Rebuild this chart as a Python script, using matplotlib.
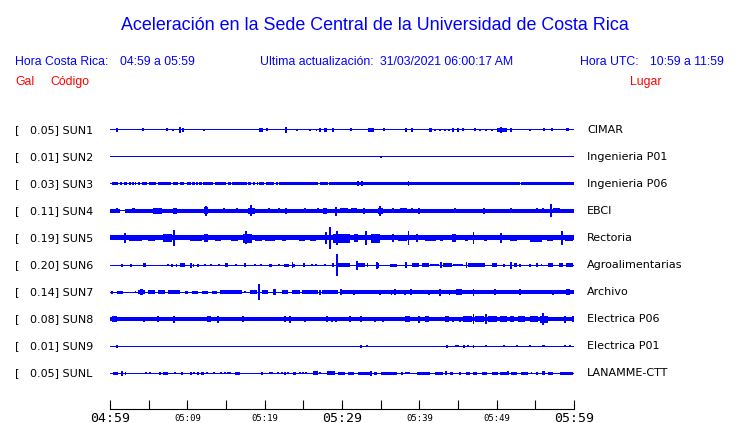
"""
Acelerogramas de la Sede Central (UCR) - recreación del gráfico de una hora
"""

import matplotlib
matplotlib.use('Agg')
import matplotlib.pyplot as plt
from matplotlib import transforms

# Estaciones
CODES = ['SUN1', 'SUN2', 'SUN3', 'SUN4', 'SUN5', 'SUN6', 'SUN7', 'SUN8', 'SUN9', 'SUNL']
GAL = [0.05, 0.01, 0.03, 0.11, 0.19, 0.20, 0.14, 0.08, 0.01, 0.05]
PLACES = ['CIMAR', 'Ingenieria P01', 'Ingenieria P06', 'EBCI', 'Rectoria',
          'Agroalimentarias', 'Archivo', 'Electrica P06', 'Electrica P01', 'LANAMME-CTT']

# Semi-amplitud del ruido de fondo de cada traza (px)
BASE_HALF = [0, 0, 1.5, 1.8, 2.5, 0, 0, 2.0, 0, 0]

# Tramos (min) donde el fondo se adelgaza
SUN3_GAPS = [(0.0, 0.3), (1.0, 1.3), (1.6, 1.85), (2.25, 2.5), (2.7, 2.9), (3.05, 3.25),
             (3.4, 3.6), (3.9, 4.1), (4.75, 5.0), (6.0, 6.25), (7.95, 8.15), (8.75, 9.0),
             (9.6, 9.95), (10.45, 10.65), (10.95, 11.1), (11.35, 11.5), (11.9, 12.05),
             (13.35, 13.55), (15.05, 15.3), (15.65, 15.8), (17.7, 17.9), (18.25, 18.45),
             (18.8, 18.95), (19.15, 19.3), (19.85, 20.2), (21.2, 21.5), (21.7, 21.9),
             (26.95, 27.1), (28.2, 28.35), (49.85, 49.95), (53.0, 53.15)]
SUN4_GAPS = [(1.3, 2.0)]

# Ráfagas: (min inicio, min fin, semi-amplitud px)
SUN1_BURSTS = [(0.95, 0.95, 1.8), (4.3, 4.3, 1.5), (7.4, 7.4, 1.5), (8.2, 8.2, 1.2), (9.1, 9.1, 3.0),
               (9.4, 9.4, 1.8), (12.2, 12.2, 1.2), (19.3, 19.8, 2.0), (20.3, 20.3, 1.5),
               (22.7, 22.7, 2.8), (24.2, 24.2, 1.2), (25.9, 25.9, 1.2), (26.7, 26.7, 1.2),
               (27.1, 27.1, 1.8), (27.7, 28.1, 2.3), (28.7, 28.9, 1.8), (31.2, 31.2, 1.5),
               (33.4, 34.1, 2.0), (35.4, 35.4, 1.5), (38.1, 38.4, 2.0), (38.9, 39.1, 2.0),
               (41.2, 41.6, 2.2), (42.0, 42.0, 1.2), (42.7, 42.7, 1.2), (43.3, 43.3, 1.0),
               (43.8, 43.8, 1.0), (44.3, 44.3, 1.8), (45.0, 45.0, 2.3), (45.6, 45.6, 1.5),
               (47.2, 47.2, 1.5), (47.8, 47.8, 1.2), (48.6, 48.6, 1.2), (49.4, 49.4, 1.0),
               (50.0, 51.3, 2.0), (50.6, 50.6, 2.8), (51.9, 51.9, 1.8), (54.3, 54.3, 1.2),
               (56.1, 56.1, 1.5), (57.1, 57.3, 1.5), (59.0, 59.3, 1.5)]
SUN2_BURSTS = [(35.0, 35.0, 1.2)]
SUN3_BURSTS = [(32.1, 32.1, 2.5), (32.6, 32.6, 2.5), (38.6, 38.6, 2.5)]
SUN4_BURSTS = [(0.95, 0.95, 2.5), (2.8, 3.2, 2.5), (5.6, 6.7, 2.7), (8.2, 8.6, 3.2), (9.9, 10.6, 2.3),
               (12.1, 12.7, 3.5), (12.4, 12.4, 5.0), (14.7, 14.7, 2.5), (16.4, 16.4, 2.5),
               (17.8, 18.8, 3.3), (18.2, 18.3, 5.5), (20.5, 20.5, 2.5), (21.8, 21.8, 2.5),
               (22.6, 22.8, 3.2), (25.2, 25.2, 2.5), (26.1, 26.1, 2.2), (26.9, 26.9, 2.5),
               (27.6, 28.0, 2.7), (29.2, 29.2, 4.5), (29.7, 30.8, 2.5), (31.2, 31.9, 2.5),
               (32.8, 33.0, 2.8), (34.7, 35.3, 3.2), (34.9, 34.9, 5.0), (36.0, 36.0, 2.2),
               (36.6, 36.6, 2.5), (37.5, 38.4, 2.5), (39.0, 39.0, 2.5), (39.9, 40.1, 3.3),
               (40.7, 40.7, 2.2), (42.7, 43.5, 2.3), (44.6, 44.6, 2.5), (45.7, 45.7, 2.2),
               (47.2, 47.2, 2.2), (48.3, 48.5, 2.7), (50.4, 50.4, 2.2), (51.7, 51.9, 2.5),
               (53.0, 53.0, 2.2), (55.2, 55.2, 2.5), (56.0, 56.0, 2.5), (57.0, 57.0, 6.5),
               (57.3, 58.2, 2.5)]
SUN5_BURSTS = [(1.9, 1.9, 5.0), (2.4, 4.1, 3.3), (4.9, 5.8, 3.3), (6.8, 8.0, 3.8), (8.3, 8.3, 8.0),
               (10.3, 11.9, 3.3), (12.1, 12.7, 3.8), (13.6, 14.4, 3.3), (15.7, 16.6, 3.0),
               (17.2, 18.3, 4.5), (17.6, 17.6, 6.5), (18.8, 19.6, 3.3), (20.0, 21.3, 3.3),
               (22.2, 22.8, 3.0), (24.4, 25.2, 3.3), (25.9, 26.7, 3.0), (27.8, 28.1, 6.0),
               (28.4, 28.4, 11.0), (28.9, 31.0, 4.5), (29.3, 29.3, 7.0), (31.5, 32.1, 3.8),
               (33.0, 33.2, 7.0), (33.8, 34.9, 4.5), (36.6, 36.6, 4.0), (37.3, 38.4, 3.3),
               (38.6, 38.6, 7.0), (39.7, 39.7, 4.0), (40.7, 42.2, 3.3), (42.7, 43.1, 3.0),
               (44.2, 44.8, 3.8), (45.9, 46.3, 3.3), (47.0, 47.0, 6.0), (48.3, 48.7, 3.0),
               (50.6, 50.6, 5.0), (51.7, 52.6, 3.0), (54.3, 55.8, 3.5), (56.5, 57.3, 3.0),
               (58.4, 58.4, 7.0), (58.8, 59.9, 3.3)]
SUN6_BURSTS = [(1.5, 1.5, 1.5), (2.6, 2.9, 1.5), (4.3, 4.7, 2.0), (7.5, 7.5, 1.2), (8.0, 8.0, 1.5),
               (8.6, 8.6, 1.5), (9.1, 9.7, 1.8), (10.5, 10.5, 2.5), (10.8, 10.8, 1.5),
               (11.4, 11.4, 1.5), (12.3, 12.3, 1.3), (13.1, 13.1, 1.3), (14.1, 14.1, 1.3),
               (14.9, 15.3, 2.3), (16.3, 16.3, 1.2), (17.4, 17.5, 2.0), (18.8, 18.8, 1.2),
               (19.5, 19.5, 1.2), (20.6, 20.9, 1.5), (21.8, 21.8, 1.3), (22.5, 23.1, 1.5),
               (23.6, 23.6, 3.0), (23.8, 23.8, 1.5), (24.9, 25.2, 2.0), (26.1, 26.1, 1.3),
               (26.6, 26.6, 1.3), (27.8, 27.8, 1.3), (28.7, 29.0, 2.0), (29.4, 29.4, 11.0),
               (29.5, 31.0, 2.0), (31.9, 31.9, 4.5), (32.1, 33.0, 1.8), (33.2, 33.4, 1.8),
               (34.5, 34.5, 3.5), (34.7, 34.7, 2.5), (36.2, 37.1, 1.5), (38.1, 38.4, 3.0),
               (39.0, 39.9, 1.8), (40.3, 41.2, 1.6), (41.4, 42.5, 1.4), (42.8, 42.8, 3.0),
               (43.1, 44.2, 1.8), (44.4, 45.7, 1.4), (46.1, 46.1, 3.0), (46.3, 48.5, 1.6),
               (49.4, 50.0, 1.8), (50.9, 50.9, 1.5), (51.9, 51.9, 3.5), (52.2, 52.6, 2.2),
               (53.0, 53.0, 1.5), (54.3, 54.3, 1.5), (55.2, 55.2, 2.0), (55.8, 55.8, 1.3),
               (56.7, 57.3, 1.8), (58.0, 58.6, 1.6), (59.0, 59.9, 1.6)]
SUN7_BURSTS = [(0.2, 0.2, 1.5), (0.86, 1.72, 1.5), (3.2, 3.4, 1.0), (3.66, 4.53, 1.8), (3.9, 4.3, 3.0),
               (4.96, 5.82, 1.8), (6.25, 7.11, 2.0), (7.54, 9.05, 2.0), (9.7, 10.13, 1.5),
               (10.65, 11.42, 1.5), (11.85, 12.72, 1.5), (13.15, 13.79, 1.5), (14.22, 17.03, 1.8),
               (17.46, 17.46, 1.2), (18.1, 18.97, 1.8), (19.31, 19.31, 8.0), (19.6, 20.47, 1.8),
               (21.12, 21.42, 3.0), (22.2, 23.06, 1.8), (23.49, 24.57, 2.0), (24.78, 26.94, 1.8),
               (27.16, 27.16, 2.5), (27.37, 29.53, 1.8), (29.87, 29.87, 3.0), (30.04, 60.0, 1.8),
               (31.6, 31.6, 2.5), (34.9, 34.9, 2.5), (36.4, 36.4, 2.5), (36.9, 36.9, 3.0),
               (38.1, 38.1, 2.5), (38.9, 38.9, 3.0), (41.2, 41.2, 2.5), (42.7, 42.7, 3.5),
               (43.9, 43.9, 2.5), (44.8, 45.5, 2.6), (47.0, 47.0, 3.5), (49.8, 49.8, 3.0),
               (53.0, 53.0, 3.0), (57.3, 57.3, 2.5), (59.0, 59.5, 3.0)]
SUN8_BURSTS = [(0.2, 0.86, 3.0), (4.44, 4.44, 2.5), (6.25, 6.25, 3.0), (8.32, 8.32, 3.5),
               (12.5, 13.1, 2.6), (14.0, 14.0, 3.5), (17.24, 17.24, 3.0), (22.6, 22.6, 3.0),
               (23.3, 23.3, 3.5), (25.2, 25.2, 2.5), (28.0, 28.0, 3.0), (28.7, 28.7, 2.5),
               (29.2, 29.2, 2.5), (31.0, 31.0, 3.0), (32.5, 32.5, 3.0), (34.3, 34.3, 2.5),
               (35.3, 35.3, 2.5), (38.1, 38.8, 2.6), (39.9, 39.9, 3.5), (40.7, 41.2, 3.0),
               (43.3, 43.8, 2.6), (44.4, 44.4, 2.5), (45.3, 45.3, 2.5), (45.7, 46.8, 3.0),
               (47.0, 47.0, 5.0), (47.2, 48.3, 2.8), (48.6, 48.6, 5.0), (48.9, 50.0, 3.0),
               (50.4, 51.3, 3.0), (51.7, 52.2, 2.6), (52.8, 53.7, 2.6), (54.3, 55.4, 2.6),
               (55.6, 56.7, 3.5), (56.0, 56.0, 6.0), (58.8, 58.8, 3.5), (59.9, 59.9, 3.0)]
SUN9_BURSTS = [(0.95, 0.95, 1.5), (32.5, 32.5, 1.5), (33.2, 33.2, 1.2), (43.6, 43.6, 1.5),
               (44.7, 44.7, 1.2), (45.0, 45.0, 1.0), (45.8, 45.8, 1.5), (46.3, 46.3, 1.0),
               (47.0, 47.0, 1.5), (48.6, 48.6, 1.2), (50.9, 50.9, 1.0), (52.6, 52.6, 1.0),
               (54.3, 54.3, 1.0), (55.8, 56.3, 1.3), (58.8, 58.8, 1.0), (59.5, 59.5, 1.2)]
SUNL_BURSTS = [(0.43, 1.08, 1.5), (1.6, 1.6, 2.5), (2.0, 2.0, 1.5), (4.7, 4.7, 1.2), (5.2, 5.2, 1.2),
               (6.3, 6.6, 1.5), (6.9, 7.5, 1.5), (8.4, 8.4, 1.2), (9.2, 9.5, 1.5), (10.3, 10.6, 1.5),
               (10.9, 10.9, 1.2), (11.3, 11.5, 1.5), (11.8, 12.2, 1.5), (12.6, 12.6, 1.2),
               (13.4, 13.4, 1.2), (14.2, 14.4, 1.3), (14.9, 14.9, 1.2), (15.2, 15.2, 1.2),
               (15.5, 15.5, 1.2), (16.2, 16.8, 1.5), (19.6, 19.6, 1.5), (20.6, 21.1, 1.3),
               (21.7, 21.7, 1.3), (22.2, 22.2, 1.2), (22.6, 22.6, 1.5), (23.0, 23.0, 1.3),
               (23.6, 24.1, 1.5), (24.6, 24.6, 1.3), (24.9, 24.9, 1.2), (25.4, 25.4, 1.2),
               (26.3, 26.9, 2.0), (27.2, 27.2, 1.2), (28.1, 29.1, 1.8), (29.5, 30.4, 1.5),
               (30.8, 31.5, 1.5), (32.1, 33.6, 1.5), (33.8, 33.8, 2.5), (34.1, 34.5, 1.5),
               (35.1, 37.1, 1.5), (37.7, 37.9, 1.5), (38.1, 38.8, 1.3), (39.7, 41.4, 1.5),
               (42.0, 43.1, 1.5), (43.5, 43.5, 2.0), (44.0, 44.4, 1.5), (45.3, 45.3, 1.5),
               (46.0, 46.6, 1.5), (47.0, 47.4, 1.5), (48.1, 48.7, 1.5), (49.4, 50.2, 1.5),
               (50.4, 51.3, 1.5), (51.5, 51.5, 2.0), (51.9, 52.6, 1.5), (53.2, 54.1, 1.5),
               (54.5, 54.5, 1.3), (55.2, 55.2, 1.5), (55.8, 56.3, 2.0), (56.7, 57.3, 1.5),
               (58.2, 59.9, 1.5)]

# Eje de tiempo (minutos desde 04:59)
TICK_MIN = [0, 5, 10, 15, 20, 25, 30, 35, 40, 45, 50, 55, 60]
TICK_LABELS = ['04:59', '', '05:09', '', '05:19', '', '05:29', '', '05:39', '', '05:49', '', '05:59']
BIG_TICKS = [0, 30, 60]


def px(x, y):
    """Pixel de la imagen -> coordenadas de figura."""
    return x / 740, 1 - y / 423


def main():
    blue = '#0000ff'
    red = '#ff0000'
    row_px = 27.0
    n = len(CODES)

    bursts = [SUN1_BURSTS, SUN2_BURSTS, SUN3_BURSTS, SUN4_BURSTS, SUN5_BURSTS,
              SUN6_BURSTS, SUN7_BURSTS, SUN8_BURSTS, SUN9_BURSTS, SUNL_BURSTS]
    gaps = [[], [], SUN3_GAPS, SUN4_GAPS, [], [], [], [], [], []]

    fig = plt.figure(figsize=(7.4, 4.23), dpi=100)
    ax = fig.add_axes([110 / 740, 14 / 423, 464 / 740, 299 / 423])
    ax.set_xlim(0, 60)
    ax.set_ylim(-36 / row_px, (n - 1) + 20 / row_px)

    for k in range(n):
        y = (n - 1) - k
        lefts, widths, bottoms, heights = [], [], [], []
        # línea base de 1 px
        lefts.append(0.0); widths.append(60.0)
        bottoms.append(y - 0.5 / row_px); heights.append(1.0 / row_px)
        # ruido de fondo (continuo salvo los huecos)
        if BASE_HALF[k] > 0:
            starts = [0.0] + [g1 for g0, g1 in gaps[k]]
            ends = [g0 for g0, g1 in gaps[k]] + [60.0]
            h = BASE_HALF[k] / row_px
            for s, e in zip(starts, ends):
                if e > s:
                    lefts.append(s); widths.append(e - s)
                    bottoms.append(y - h); heights.append(2 * h)
        for t0, t1, a in bursts[k]:
            h = a / row_px
            w = max(t1 - t0, 0.25)
            lefts.append((t0 + t1) / 2 - w / 2); widths.append(w)
            bottoms.append(y - h); heights.append(2 * h)
        ax.bar(lefts, heights, width=widths, bottom=bottoms, align='edge',
               color=blue, linewidth=0, antialiased=False)

    # Eje
    for s in ['top', 'left', 'right']:
        ax.spines[s].set_visible(False)
    ax.spines['bottom'].set_linewidth(0.8)
    ax.set_yticks([])
    ax.set_xticks(TICK_MIN)
    ax.set_xticklabels(TICK_LABELS, family='DejaVu Sans Mono')
    ax.tick_params(axis='x', direction='in', length=6.5, width=0.8, pad=6.5)
    for lab, m in zip(ax.get_xticklabels(), TICK_MIN):
        lab.set_fontsize(9.5 if m in BIG_TICKS else 6.5)
        lab.set_va('center')

    # Etiquetas de cada traza
    trans = transforms.blended_transform_factory(fig.transFigure, ax.transData)
    for k in range(n):
        y = (n - 1) - k
        ax.text(15 / 740, y, '[   %.2f] %s' % (GAL[k], CODES[k]), transform=trans,
                fontsize=8, family='DejaVu Sans', va='center', ha='left')
        ax.text(587 / 740, y, PLACES[k], transform=trans,
                fontsize=8, family='DejaVu Sans', va='center', ha='left')

    # Encabezado
    hdr = dict(fontsize=8.8, family='Liberation Sans', va='baseline', ha='left')
    fig.text(*px(121, 30), 'Aceleración en la Sede Central de la Universidad de Costa Rica',
             fontsize=12.9, family='Liberation Sans', color=blue, va='baseline', ha='left')
    fig.text(*px(15, 65), 'Hora Costa Rica:', color=blue, **hdr)
    fig.text(*px(120, 65), '04:59 a 05:59', color=blue, **hdr)
    fig.text(*px(260, 65), 'Ultima actualización:', color=blue, **hdr)
    fig.text(*px(380, 65), '31/03/2021 06:00:17 AM', color=blue, **hdr)
    fig.text(*px(580, 65), 'Hora UTC:', color=blue, **hdr)
    fig.text(*px(650, 65), '10:59 a 11:59', color=blue, **hdr)
    fig.text(*px(15, 85), 'Gal', color=red, **hdr)
    fig.text(*px(50, 85), 'Código', color=red, **hdr)
    fig.text(*px(630, 85), 'Lugar', color=red, **hdr)

    fig.savefig('out.png', dpi=100, facecolor='white')


if __name__ == "__main__":
    main()
